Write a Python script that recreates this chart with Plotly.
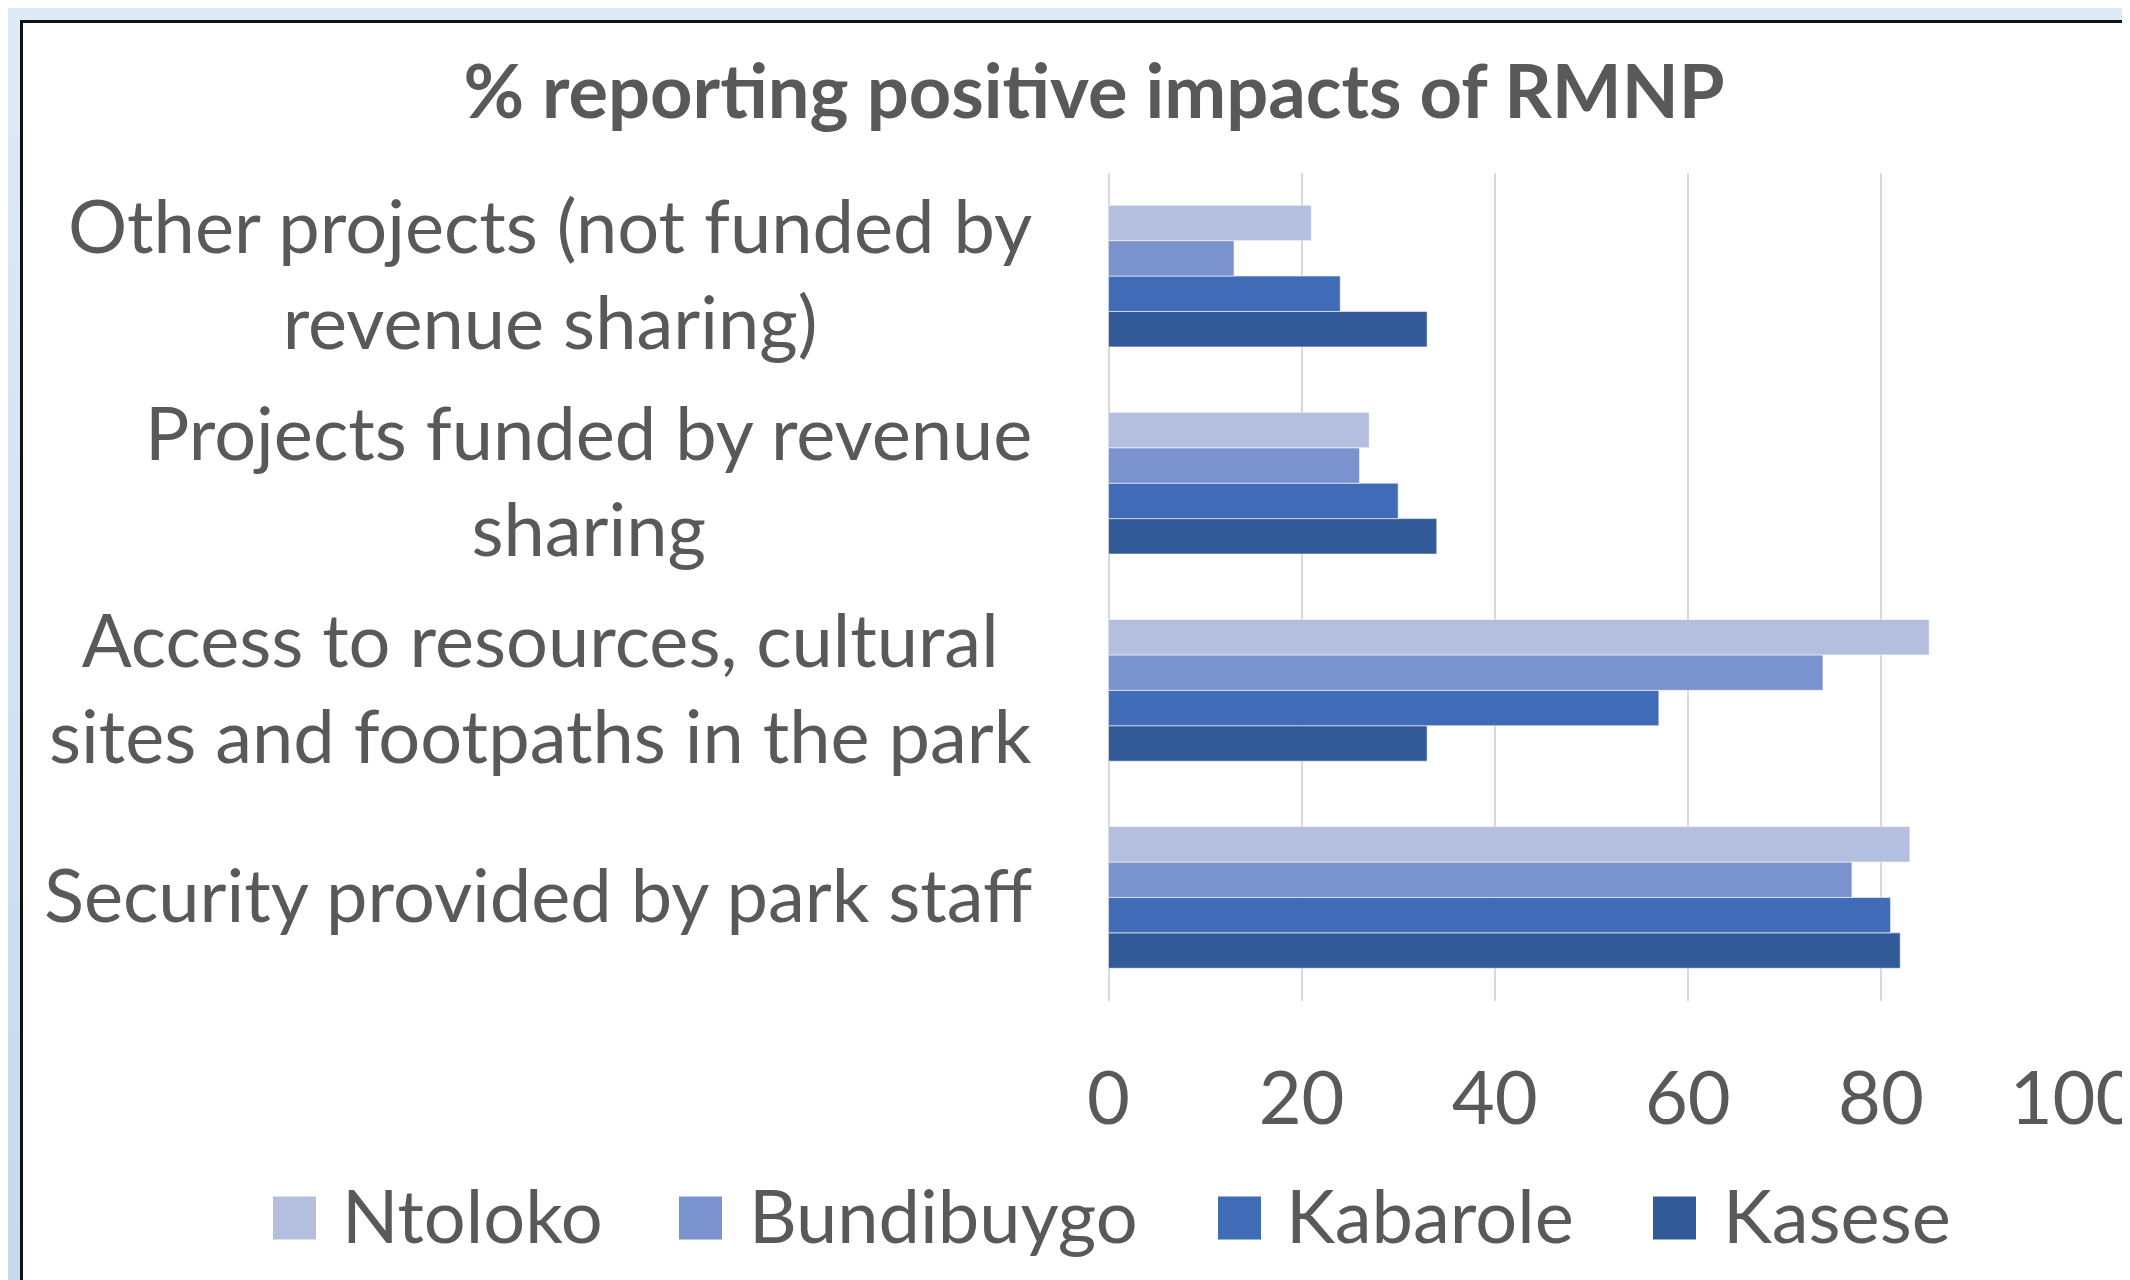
import plotly.graph_objects as go

# ---- data ----
categories = [
    "Security provided by park staff",
    "Access to resources, cultural<br>sites and footpaths in the park",
    "Projects funded by revenue<br>sharing",
    "Other projects (not funded by<br>revenue sharing)",
]
series = ["Ntoloko", "Bundibuygo", "Kabarole", "Kasese"]
ntoloko = [83, 85, 27, 21]
bundibuygo = [77, 74, 26, 13]
kabarole = [81, 57, 30, 24]
kasese = [82, 33, 34, 33]
values = {"Ntoloko": ntoloko, "Bundibuygo": bundibuygo, "Kabarole": kabarole, "Kasese": kasese}
colors = {"Ntoloko": "#b4bfdf", "Bundibuygo": "#7a93cf", "Kabarole": "#3f6bb7", "Kasese": "#325a99"}
x_ticks = [0, 20, 40, 60, 80, 100]
title = "% reporting positive impacts of RMNP"

W, H = 2130, 1280
OFF = 8  # page body margin in which the figure sits
FONT = "Lato"
TXT = "#595959"

fig = go.Figure()
for name in reversed(series):
    fig.add_trace(go.Bar(
        y=categories, x=values[name], name=name, orientation="h",
        marker=dict(color=colors[name], line=dict(color="rgba(255,255,255,0.55)", width=1)),
        showlegend=False,
    ))

def px_x(p):
    return (p - OFF) / W

def px_y(p):
    return 1 - (p - OFF) / H

shapes = []
top_c = (0xdf, 0xea, 0xf6)
bot_c = (0xc4, 0xda, 0xef)
nb = 20
for i in range(nb):
    t = (i + 0.5) / nb
    c = tuple(int(round(top_c[k] + (bot_c[k] - top_c[k]) * t)) for k in range(3))
    shapes.append(dict(type="rect", xref="paper", yref="paper", layer="below",
                       x0=0, x1=1, y0=1 - (i + 1) / nb - 0.001, y1=1 - i / nb,
                       fillcolor="rgb(%d,%d,%d)" % c, line=dict(width=0)))
shapes.append(dict(type="rect", xref="paper", yref="paper", layer="below",
                   x0=px_x(21.5), x1=1.02, y0=-0.02, y1=px_y(21.5),
                   fillcolor="white", line=dict(color="#111111", width=3)))

annotations = []
for cat in categories:
    annotations.append(dict(
        text=cat, xref="paper", yref="y", x=px_x(1034), y=cat, yshift=4,
        xanchor="right", yanchor="middle", align="center", showarrow=False,
        font=dict(family=FONT, size=74, color=TXT),
    ))

leg_sq = [273, 679, 1218, 1653]
leg_tx = [340, 747, 1284, 1721]
leg_y = 1218
sq = 43
for name, sx, tx in zip(series, leg_sq, leg_tx):
    shapes.append(dict(type="rect", xref="paper", yref="paper", layer="above",
                       x0=px_x(sx), x1=px_x(sx + sq),
                       y0=px_y(leg_y + sq / 2), y1=px_y(leg_y - sq / 2),
                       fillcolor=colors[name], line=dict(width=0)))
    annotations.append(dict(
        text=name, xref="paper", yref="paper", x=px_x(tx), y=px_y(leg_y - 4),
        xanchor="left", yanchor="middle", showarrow=False,
        font=dict(family=FONT, size=74, color=TXT),
    ))

fig.update_layout(
    width=W, height=H,
    margin=dict(l=0, r=0, t=0, b=0, pad=0, autoexpand=False),
    paper_bgcolor="#dde9f5",
    plot_bgcolor="rgba(0,0,0,0)",
    barmode="group", bargap=0.316, bargroupgap=0,
    title=dict(text=title, x=px_x(1094), y=px_y(92), xanchor="center", yanchor="middle",
               xref="paper", yref="paper", automargin=False,
               font=dict(family=FONT, size=74, color=TXT, weight="bold")),
    shapes=shapes,
    annotations=annotations,
    showlegend=False,
    xaxis=dict(domain=[px_x(1108.5), px_x(2074)], range=[0, 100], tickvals=x_ticks,
               automargin=False,
               showgrid=True, gridcolor="#d9d9d9", gridwidth=2,
               zeroline=True, zerolinecolor="#d9d9d9", zerolinewidth=2,
               showline=False, ticks="", ticklabelstandoff=48, ticklabeloverflow="allow",
               tickfont=dict(family=FONT, size=74, color=TXT)),
    yaxis=dict(domain=[px_y(1001), px_y(172.5)], showticklabels=False, showgrid=False,
               automargin=False,
               zeroline=False, showline=False, ticks=""),
)

fig.write_html("out.html")
